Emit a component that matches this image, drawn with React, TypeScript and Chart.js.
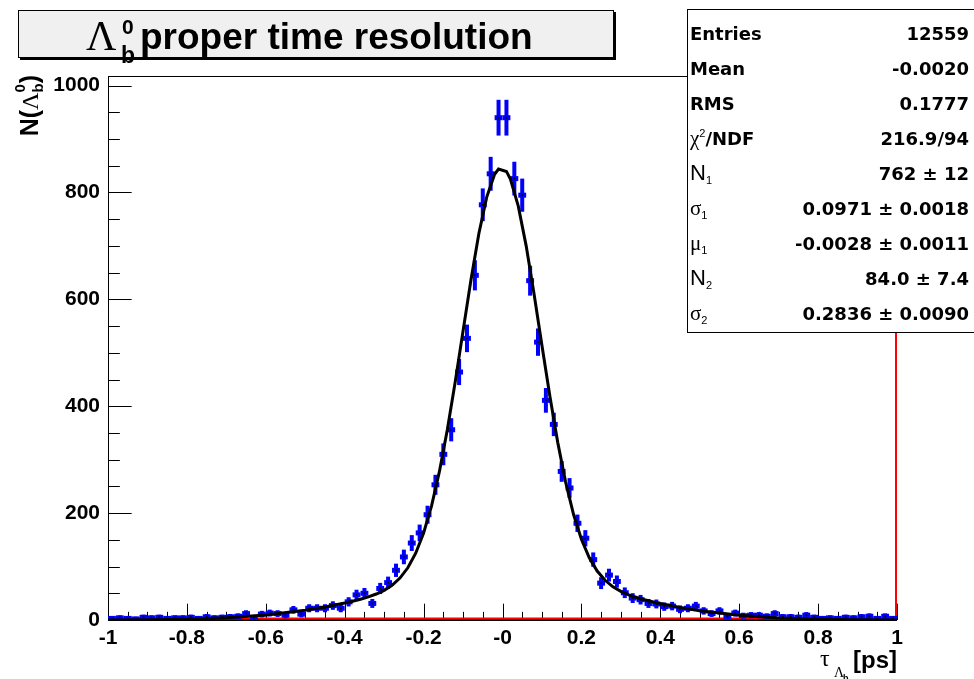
import React, { useEffect, useRef } from "react";
import { Chart, registerables } from "chart.js";

Chart.register(...registerables);

// ---- histogram definition & data (counts per 0.02 bin, -1 .. 1) ----
const HIST_MIN = -1;
const HIST_MAX = 1;
const counts = [
  3, 4, 3, 2, 5, 4, 5, 3, 4, 4,
  5, 3, 6, 4, 5, 6, 7, 12, 4, 11,
  13, 12, 9, 19, 11, 22, 22, 22, 27, 22,
  34, 47, 50, 31, 59, 70, 93, 118, 144, 163,
  197, 253, 310, 356, 464, 527, 645, 777, 835, 940,
  940, 826, 795, 635, 520, 411, 366, 278, 247, 181,
  153, 113, 69, 84, 72, 51, 41, 38, 31, 30,
  25, 26, 20, 22, 26, 17, 12, 17, 7, 13,
  8, 9, 9, 7, 12, 6, 6, 5, 9, 5,
  3, 4, 3, 5, 4, 6, 7, 3, 7, 3,
];

// ---- fitted double-gaussian curve, read at these abscissae ----
const fitX = [
  -1, -0.9, -0.8, -0.7, -0.6, -0.5, -0.45, -0.4,
  -0.38, -0.36, -0.34, -0.32, -0.3, -0.28, -0.26, -0.24, -0.22, -0.2,
  -0.18, -0.16, -0.14, -0.12, -0.1, -0.08, -0.06, -0.04, -0.02, -0.01,
  0.01, 0.02, 0.04, 0.06, 0.08, 0.1, 0.12, 0.14, 0.16, 0.18, 0.2,
  0.22, 0.24, 0.26, 0.28, 0.3, 0.32, 0.34, 0.36, 0.38,
  0.4, 0.45, 0.5, 0.6, 0.7, 0.8, 0.9, 1,
];
const fitY = [
  0.17, 0.56, 1.62, 4.09, 9.15, 18.1, 24.3, 31.7,
  35.1, 38.9, 43.3, 48.6, 55.5, 65.0, 78.5, 97.7, 125.0, 162.9,
  213.2, 277.5, 355.5, 444.9, 540.9, 636.4, 722.9, 791.4, 834.0, 843.9,
  839.4, 825.0, 774.5, 700.1, 610.2, 513.8, 419.0, 332.4, 258.1, 197.8, 151.0,
  116.5, 91.6, 74.3, 62.1, 53.5, 46.9, 42.0, 37.8, 34.1,
  30.7, 23.5, 17.5, 8.77, 3.9, 1.53, 0.53, 0.16,
];

// ---- axes ----
const xTickValues = [-1, -0.8, -0.6, -0.4, -0.2, 0, 0.2, 0.4, 0.6, 0.8, 1];
const xTickLabels = ["-1", "-0.8", "-0.6", "-0.4", "-0.2", "-0", "0.2", "0.4", "0.6", "0.8", "1"];
const yTickValues = [0, 200, 400, 600, 800, 1000];
const yTickLabels = ["0", "200", "400", "600", "800", "1000"];
const Y_MAX = 1018;

// ---- statistics box ----
const statValues = [
  "12559", "-0.0020", "0.1777", "216.9/94", "762 ± 12",
  "0.0971 ± 0.0018", "-0.0028 ± 0.0011", "84.0 ± 7.4", "0.2836 ± 0.0090",
];

const SANS = "'Liberation Sans', Arial, sans-serif";
const STAT = "'DejaVu Sans', sans-serif";
const SERIF = "'Liberation Serif', 'DejaVu Serif', serif";

type Part = { t: string; font: string; dy?: number };

const B18 = `bold 18px ${STAT}`;
const statLabels: Part[][] = [
  [{ t: "Entries", font: B18 }],
  [{ t: "Mean", font: B18 }],
  [{ t: "RMS", font: B18 }],
  [{ t: "χ", font: `21px ${SERIF}` }, { t: "2", font: `11px ${SANS}`, dy: -8 }, { t: "/NDF", font: B18 }],
  [{ t: "N", font: `22px ${SANS}` }, { t: "1", font: `11px ${SANS}`, dy: 4 }],
  [{ t: "σ", font: `21px ${SERIF}` }, { t: "1", font: `11px ${SANS}`, dy: 4 }],
  [{ t: "μ", font: `21px ${SERIF}` }, { t: "1", font: `11px ${SANS}`, dy: 4 }],
  [{ t: "N", font: `22px ${SANS}` }, { t: "2", font: `11px ${SANS}`, dy: 4 }],
  [{ t: "σ", font: `21px ${SERIF}` }, { t: "2", font: `11px ${SANS}`, dy: 4 }],
];

function partsWidth(ctx: CanvasRenderingContext2D, parts: Part[]) {
  let w = 0;
  for (const p of parts) {
    ctx.font = p.font;
    w += ctx.measureText(p.t).width;
  }
  return w;
}
function drawParts(ctx: CanvasRenderingContext2D, parts: Part[], x: number, y: number) {
  let cx = x;
  for (const p of parts) {
    ctx.font = p.font;
    ctx.fillText(p.t, cx, y + (p.dy || 0));
    cx += ctx.measureText(p.t).width;
  }
  return cx;
}

const rootPlugin = {
  id: "rootStyle",
  beforeDatasetsDraw(chart: any) {
    const { ctx, chartArea: a } = chart;
    const xs = chart.scales.x;
    const ys = chart.scales.y;
    const binW = (HIST_MAX - HIST_MIN) / counts.length;
    ctx.save();
    // frame
    ctx.strokeStyle = "#000";
    ctx.lineWidth = 1;
    ctx.strokeRect(a.left + 0.5, a.top + 0.5, a.right - a.left - 1, a.bottom - a.top);
    ctx.lineWidth = 2;
    ctx.beginPath();
    ctx.moveTo(a.left, a.bottom);
    ctx.lineTo(a.right, a.bottom);
    ctx.stroke();
    // x ticks (major 0.2, minor 0.05)
    const h = a.bottom - a.top;
    const w = a.right - a.left;
    ctx.lineWidth = 1;
    ctx.beginPath();
    for (let k = 0; k <= 40; k++) {
      const v = HIST_MIN + k * 0.05;
      const px = Math.round(xs.getPixelForValue(v)) + 0.5;
      const len = k % 4 === 0 ? 0.03 * h : 0.015 * h;
      ctx.moveTo(px, a.bottom);
      ctx.lineTo(px, a.bottom - len);
    }
    // y ticks (major 200, minor 50)
    for (let k = 0; k <= 20; k++) {
      const v = k * 50;
      const py = Math.round(ys.getPixelForValue(v)) + 0.5;
      const len = k % 4 === 0 ? 0.03 * w : 0.015 * w;
      ctx.moveTo(a.left, py);
      ctx.lineTo(a.left + len, py);
    }
    ctx.stroke();
    // red histogram outline
    ctx.strokeStyle = "#ff0000";
    ctx.lineWidth = 2;
    ctx.beginPath();
    ctx.moveTo(xs.getPixelForValue(HIST_MIN), ys.getPixelForValue(0) - 1.5);
    ctx.lineTo(xs.getPixelForValue(HIST_MAX) - 1, ys.getPixelForValue(0) - 1.5);
    ctx.lineTo(xs.getPixelForValue(HIST_MAX) - 1, a.top);
    ctx.stroke();
    // error bars
    ctx.beginPath();
    ctx.rect(a.left, a.top, w, h);
    ctx.clip();
    ctx.strokeStyle = "#0000ff";
    counts.forEach((c, i) => {
      const xc = HIST_MIN + binW * (i + 0.5);
      const px = xs.getPixelForValue(xc);
      const py = ys.getPixelForValue(c);
      const e = Math.sqrt(c);
      ctx.lineWidth = 4;
      ctx.beginPath();
      ctx.moveTo(px, ys.getPixelForValue(c + e) - 1.5);
      ctx.lineTo(px, ys.getPixelForValue(c - e) + 1.5);
      ctx.stroke();
      ctx.lineWidth = 5;
      ctx.beginPath();
      ctx.moveTo(xs.getPixelForValue(xc - binW / 2), py);
      ctx.lineTo(xs.getPixelForValue(xc + binW / 2), py);
      ctx.stroke();
    });
    ctx.restore();
  },
  afterDraw(chart: any) {
    const { ctx, chartArea: a } = chart;
    ctx.save();
    ctx.textBaseline = "alphabetic";
    // ---- title box ----
    ctx.fillStyle = "#000";
    ctx.fillRect(20, 12, 596, 48);
    ctx.fillStyle = "#f0f0f0";
    ctx.fillRect(18, 10, 596, 48);
    ctx.strokeStyle = "#000";
    ctx.lineWidth = 1;
    ctx.strokeRect(18.5, 10.5, 595, 47);
    ctx.fillStyle = "#000";
    ctx.font = `42px ${SERIF}`;
    ctx.fillText("Λ", 86, 50);
    ctx.font = `bold 21px ${SANS}`;
    ctx.fillText("0", 122, 34);
    ctx.font = `bold 23px ${SANS}`;
    ctx.fillText("b", 121, 63);
    ctx.font = `bold 37px ${SANS}`;
    ctx.fillText("proper time resolution", 140, 49);

    // ---- stats box ----
    const bx = 687, by = 9, bw = 300, bh = 323;
    ctx.fillStyle = "#fff";
    ctx.fillRect(bx, by, bw, bh);
    ctx.strokeStyle = "#000";
    ctx.lineWidth = 1;
    ctx.strokeRect(bx + 0.5, by + 0.5, bw, bh);
    ctx.fillStyle = "#000";
    statLabels.forEach((parts, i) => {
      const cy = 33 + 35 * i;
      drawParts(ctx, parts, 690, cy + 7);
      ctx.font = B18;
      ctx.textAlign = "right";
      ctx.fillText(statValues[i], 969, cy + 7);
      ctx.textAlign = "left";
    });

    // ---- y axis title (rotated) ----
    const yParts: Part[] = [
      { t: "N(", font: `bold 25px ${SANS}` },
      { t: "Λ", font: `24px ${SERIF}` },
      { t: "b", font: `bold 15px ${SANS}`, dy: 5 },
      { t: ")", font: `bold 25px ${SANS}` },
    ];
    ctx.translate(38, a.top - 1);
    ctx.rotate(-Math.PI / 2);
    const yw = partsWidth(ctx, yParts);
    const endB = drawParts(ctx, yParts.slice(0, 3), -yw, 0);
    ctx.font = `bold 15px ${SANS}`;
    const bW = ctx.measureText("b").width;
    ctx.fillText("0", endB - bW, -13);
    drawParts(ctx, yParts.slice(3), endB, 0);
    ctx.setTransform(1, 0, 0, 1, 0, 0);

    // ---- x axis title ----
    ctx.font = `bold 24px ${SANS}`;
    ctx.textAlign = "right";
    ctx.fillText("[ps]", a.right, 668);
    ctx.textAlign = "left";
    ctx.font = `24px ${SERIF}`;
    ctx.fillText("τ", 820, 666);
    ctx.font = `14px ${SERIF}`;
    ctx.fillText("Λ", 834, 677);
    ctx.font = `bold 9px ${SANS}`;
    ctx.fillText("b", 843, 681);
    ctx.restore();
  },
};

export default function App() {
  const ref = useRef<HTMLCanvasElement | null>(null);
  useEffect(() => {
    document.body.style.margin = "0";
    const canvas = ref.current!;
    const binW = (HIST_MAX - HIST_MIN) / counts.length;
    const points = counts.map((c, i) => ({ x: HIST_MIN + binW * (i + 0.5), y: c }));
    const curve = fitX.map((x, i) => ({ x, y: fitY[i] }));
    const tickFont = { family: SANS, size: 21, weight: "bold" as const };
    const chart = new Chart(canvas, {
      type: "scatter",
      data: {
        datasets: [
          {
            type: "line",
            data: curve,
            borderColor: "#000",
            borderWidth: 3,
            pointRadius: 0,
            tension: 0,
            fill: false,
            order: 0,
          } as any,
          {
            type: "scatter",
            data: points,
            pointRadius: 1,
            pointBackgroundColor: "#000",
            pointBorderWidth: 0,
            order: 1,
          } as any,
        ],
      },
      options: {
        animation: false,
        responsive: false,
        maintainAspectRatio: false,
        events: [],
        layout: { padding: { top: 76, right: 77, left: 0, bottom: 0 } },
        plugins: { legend: { display: false }, tooltip: { enabled: false }, title: { display: false } },
        scales: {
          x: {
            type: "linear",
            min: HIST_MIN,
            max: HIST_MAX,
            grid: { display: false, drawTicks: false },
            border: { display: false },
            afterBuildTicks: (s: any) => {
              s.ticks = xTickValues.map((v) => ({ value: v }));
            },
            afterFit: (s: any) => {
              s.height = 59;
            },
            ticks: {
              autoSkip: false,
              maxRotation: 0,
              minRotation: 0,
              padding: 6,
              color: "#000",
              font: tickFont,
              callback: (_v: any, i: number) => xTickLabels[i],
            },
          },
          y: {
            type: "linear",
            min: 0,
            max: Y_MAX,
            grid: { display: false, drawTicks: false },
            border: { display: false },
            afterBuildTicks: (s: any) => {
              s.ticks = yTickValues.map((v) => ({ value: v }));
            },
            afterFit: (s: any) => {
              s.width = 108;
            },
            ticks: {
              autoSkip: false,
              padding: 8,
              color: "#000",
              font: tickFont,
              callback: (_v: any, i: number) => yTickLabels[i],
            },
          },
        },
      },
      plugins: [rootPlugin],
    });
    return () => chart.destroy();
  }, []);
  return (
    <div style={{ width: 974, height: 679, background: "#fff" }}>
      <canvas ref={ref} width={974} height={679} style={{ display: "block" }} />
    </div>
  );
}
